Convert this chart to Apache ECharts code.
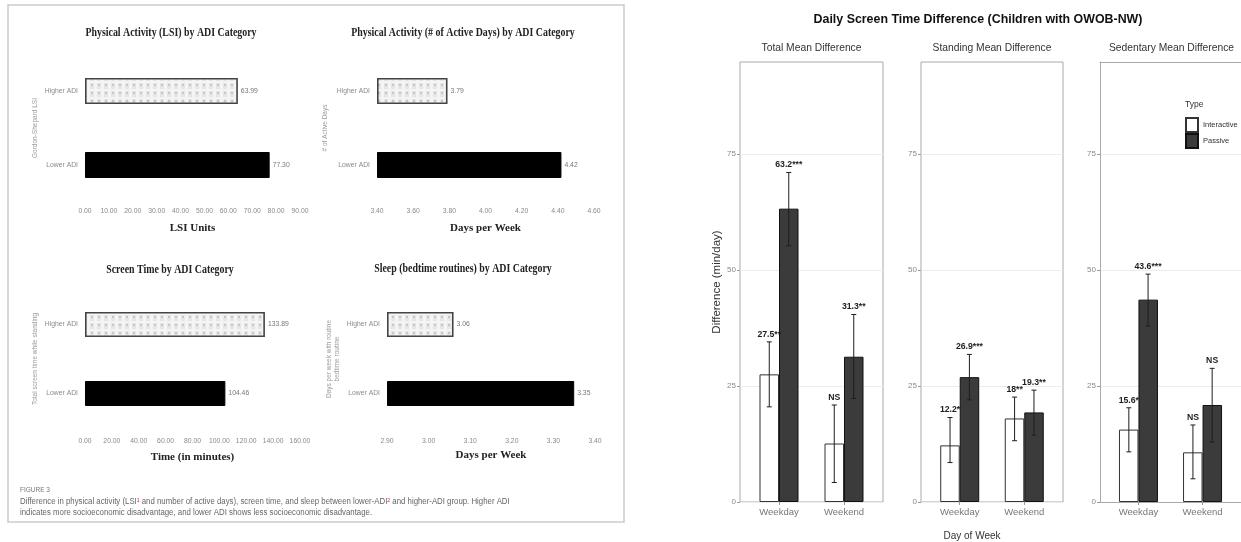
<!DOCTYPE html>
<html><head><meta charset="utf-8">
<script src="https://cdn.jsdelivr.net/npm/echarts@6/dist/echarts.min.js"></script>
<style>html,body{margin:0;padding:0;background:#fff}#c{width:1241px;height:542px}</style>
</head><body><div id="c"></div>
<script>
// ---------- Left figure data ----------
const adiCategories = ['Lower ADI', 'Higher ADI'];
const lsiValues = [77.30, 63.99];
const activeDayValues = [4.42, 3.79];
const screenTimeValues = [104.46, 133.89];
const sleepValues = [3.35, 3.06];
const lsiAxisRange = [0, 90, 10];
const activeAxisRange = [3.4, 4.6, 0.2];
const screenAxisRange = [0, 160, 20];
const sleepAxisRange = [2.9, 3.4, 0.1];

// ---------- Right figure data ----------
const dayCategories = ['Weekday', 'Weekend'];
const facetTitles = ['Total Mean Difference', 'Standing Mean Difference', 'Sedentary Mean Difference'];
const interMean  = [[27.5, 12.6], [12.2, 18.0], [15.6, 10.7]];
const interLow   = [[20.5, 4.2],  [8.5, 13.2],  [10.8, 5.0]];
const interHigh  = [[34.5, 20.9], [18.2, 22.6], [20.3, 16.6]];
const interLabel = [['27.5**', 'NS'], ['12.2*', '18**'], ['15.6*', 'NS']];
const passMean   = [[63.2, 31.3], [26.9, 19.3], [43.6, 20.9]];
const passLow    = [[55.2, 22.3], [22.0, 14.4], [37.9, 12.9]];
const passHigh   = [[71.0, 40.4], [31.8, 24.1], [49.1, 28.8]];
const passLabel  = [['63.2***', '31.3**'], ['26.9***', '19.3**'], ['43.6***', 'NS']];
const diffTicks = [0, 25, 50, 75];

// ---------- helpers ----------
function checkerPattern() {
  const c = document.createElement('canvas');
  c.width = 7; c.height = 8;
  const g = c.getContext('2d');
  g.fillStyle = '#e6e6e6'; g.fillRect(0, 0, 7, 8);
  g.fillStyle = '#f4f4f4'; g.fillRect(3, 0, 3, 8); g.fillRect(0, 1, 7, 2);
  g.fillStyle = '#c6c6c6'; g.fillRect(0, 4, 2, 2);
  return c;
}
const pat = checkerPattern();
const SANS = 'Liberation Sans';
const SERIF = 'Liberation Serif';
const PANEL_BORDER = '#a9a9a9';

const leftSpecs = [
  {values: lsiValues, range: lsiAxisRange, title: 'Physical Activity (LSI) by ADI Category', xName: 'LSI Units',
   yName: 'Gordon-Shepard LSI', left: 85, width: 215, top: 54, height: 148, barW: 26, lm: 6, ng: 21, yng: 46, tx: 171, ty: 33},
  {values: activeDayValues, range: activeAxisRange, title: 'Physical Activity (# of Active Days) by ADI Category', xName: 'Days per Week',
   yName: '# of Active Days', left: 377, width: 217, top: 54, height: 148, barW: 26, lm: 6, ng: 21, yng: 48, tx: 463, ty: 33},
  {values: screenTimeValues, range: screenAxisRange, title: 'Screen Time by ADI Category', xName: 'Time (in minutes)',
   yName: 'Total screen time while standing', left: 85, width: 215, top: 290, height: 138, barW: 25, lm: 10, ng: 24, yng: 46, tx: 170, ty: 270},
  {values: sleepValues, range: sleepAxisRange, title: 'Sleep (bedtime routines) by ADI Category', xName: 'Days per Week',
   yName: 'Days per week with routine\nbedtime routine', left: 387, width: 208, top: 290, height: 138, barW: 25, lm: 10, ng: 22, yng: 46, tx: 463, ty: 269}
];

const grids = [], xAxes = [], yAxes = [], series = [], graphics = [];

leftSpecs.forEach((s, i) => {
  grids.push({left: s.left, top: s.top, width: s.width, height: s.height, containLabel: false});
  xAxes.push({gridIndex: i, type: 'value', min: s.range[0], max: s.range[1], interval: s.range[2], startValue: s.range[0],
    axisLine: {show: false}, axisTick: {show: false}, splitLine: {show: false},
    axisLabel: {fontSize: 6.8, color: '#8a8a8a', fontFamily: SANS, margin: s.lm, formatter: v => v.toFixed(2)},
    name: s.xName, nameLocation: 'middle', nameGap: s.ng,
    nameTextStyle: {fontFamily: SERIF, fontWeight: 'bold', fontSize: 11, color: '#222'}});
  yAxes.push({gridIndex: i, type: 'category', data: adiCategories,
    axisLine: {show: false}, axisTick: {show: false}, splitLine: {show: false},
    axisLabel: {fontSize: 6.8, color: '#8a8a8a', fontFamily: SANS, margin: 7},
    name: s.yName, nameLocation: 'middle', nameRotate: 90, nameGap: s.yng,
    nameTextStyle: {fontFamily: SANS, fontSize: 6.5, color: '#999', lineHeight: 8}});
  series.push({type: 'bar', xAxisIndex: i, yAxisIndex: i, barWidth: s.barW, silent: true,
    data: s.values.map((v, k) => ({value: v, itemStyle: k === 1
      ? {color: {image: pat, repeat: 'repeat'}, borderColor: '#444', borderWidth: 1.6}
      : {color: '#000', borderColor: '#000', borderWidth: 1}})),
    label: {show: true, position: 'right', distance: 3, formatter: p => p.value.toFixed(2),
      fontSize: 6.8, color: '#777', fontFamily: SANS}});
  graphics.push({type: 'text', x: s.tx, y: s.ty, scaleX: 0.86,
    style: {text: s.title, align: 'center', verticalAlign: 'middle',
      font: 'bold 11.5px "Liberation Serif"', fill: '#222'}});
});

// right facets
const facetLefts = [740, 921, 1100];
const facetWidths = [143, 142, 143];
const DODGE = 0.15;
facetTitles.forEach((t, f) => {
  const gi = 4 + f;
  const cut = f === 2; // last panel runs off the right edge: no right border
  grids.push({left: facetLefts[f], top: 62, width: facetWidths[f], height: 440, show: !cut,
    borderColor: PANEL_BORDER, borderWidth: 1, backgroundColor: '#fff'});
  xAxes.push({gridIndex: gi, type: 'value', min: 0.4, max: 2.6,
    axisLine: {show: cut, lineStyle: {color: PANEL_BORDER, width: 1}}, splitLine: {show: false},
    axisTick: {show: true, length: 3, customValues: [1, 2], lineStyle: {color: '#999'}},
    axisLabel: {customValues: [1, 2], fontSize: 9.5, color: '#777', fontFamily: SANS, margin: 5,
      formatter: v => dayCategories[Math.round(v) - 1]}});
  yAxes.push({gridIndex: gi, type: 'value', min: 0, max: 94.8,
    axisLine: {show: cut, lineStyle: {color: PANEL_BORDER, width: 1}},
    axisTick: {show: true, length: 3, customValues: diffTicks, lineStyle: {color: '#999'}},
    axisLabel: {customValues: diffTicks, fontSize: 8, color: '#888', fontFamily: SANS, margin: 4},
    splitLine: {show: true, lineStyle: {color: '#ececec', width: 1}},
    name: f === 0 ? 'Difference (min/day)' : '', nameLocation: 'middle', nameRotate: 90, nameGap: 15,
    nameTextStyle: {fontSize: 11.5, color: '#333', fontFamily: SANS}});
  series.push({name: 'Interactive', type: 'bar', xAxisIndex: gi, yAxisIndex: gi, barWidth: 19.5, barGap: '0%',
    itemStyle: {color: '#ffffff', borderColor: '#333', borderWidth: 1},
    data: dayCategories.map((d, k) => [k + 1, interMean[f][k]])});
  series.push({name: 'Passive', type: 'bar', xAxisIndex: gi, yAxisIndex: gi, barWidth: 19.5, barGap: '0%',
    itemStyle: {color: '#3b3b3b', borderColor: '#111', borderWidth: 1},
    data: dayCategories.map((d, k) => [k + 1, passMean[f][k]])});
  const mk = (low, high, labels, off) => ({
    type: 'custom', name: 'err', xAxisIndex: gi, yAxisIndex: gi, z: 5, silent: true, clip: false,
    data: dayCategories.map((d, k) => [k + 1 + off, low[f][k], high[f][k]]),
    encode: {x: 0, y: [1, 2]},
    renderItem: (params, api) => {
      const x = api.value(0);
      const pt = api.coord([x, api.value(2)]);
      const pb = api.coord([x, api.value(1)]);
      const st = {stroke: '#1e1e1e', lineWidth: 1};
      return {type: 'group', children: [
        {type: 'line', shape: {x1: pt[0], y1: pt[1], x2: pb[0], y2: pb[1]}, style: st},
        {type: 'line', shape: {x1: pt[0] - 2.5, y1: pt[1], x2: pt[0] + 2.5, y2: pt[1]}, style: st},
        {type: 'line', shape: {x1: pb[0] - 2.5, y1: pb[1], x2: pb[0] + 2.5, y2: pb[1]}, style: st},
        {type: 'text', x: pt[0], y: pt[1] - 3, style: {text: labels[f][params.dataIndex], align: 'center',
          verticalAlign: 'bottom', font: 'bold 8.7px "Liberation Sans"', fill: '#1e1e1e'}}
      ]};
    }
  });
  series.push(mk(interLow, interHigh, interLabel, -DODGE));
  series.push(mk(passLow, passHigh, passLabel, DODGE));
  graphics.push({type: 'text', x: facetLefts[f] + facetWidths[f] / 2, y: 48,
    style: {text: t, align: 'center', verticalAlign: 'middle', font: '10.3px "Liberation Sans"', fill: '#333'}});
});
// top border of the cut-off last panel, as a bare top axis line
xAxes.push({gridIndex: 6, type: 'value', position: 'top', min: 0.4, max: 2.6,
  axisLine: {show: true, lineStyle: {color: PANEL_BORDER, width: 1}},
  axisTick: {show: false}, axisLabel: {show: false}, splitLine: {show: false}});

// left frame + caption
graphics.push({type: 'rect', shape: {x: 8, y: 5, width: 616, height: 517}, z: -1,
  style: {fill: 'none', stroke: '#cccccc', lineWidth: 1.5}});
graphics.push({type: 'text', x: 20, y: 490, style: {text: 'FIGURE 3', font: '6.5px "Liberation Sans"', fill: '#777', verticalAlign: 'middle'}});
graphics.push({type: 'text', x: 20, y: 502, scaleX: 0.92, style: {
  text: 'Difference in physical activity (LSI{s|1} and number of active days), screen time, and sleep between lower-ADI{s|2} and higher-ADI group. Higher ADI',
  font: '8.5px "Liberation Sans"', fill: '#666', verticalAlign: 'middle',
  rich: {s: {fontSize: 5.5, fill: '#c2185b', verticalAlign: 'top', padding: [0, 0, 3, 0]}}}});
graphics.push({type: 'text', x: 20, y: 513, scaleX: 0.92, style: {
  text: 'indicates more socioeconomic disadvantage, and lower ADI shows less socioeconomic disadvantage.',
  font: '8.5px "Liberation Sans"', fill: '#666', verticalAlign: 'middle'}});

// right titles
graphics.push({type: 'text', x: 978, y: 20, style: {text: 'Daily Screen Time Difference (Children with OWOB-NW)',
  align: 'center', verticalAlign: 'middle', font: 'bold 12.4px "Liberation Sans"', fill: '#111'}});
graphics.push({type: 'text', x: 972, y: 536, style: {text: 'Day of Week', align: 'center', verticalAlign: 'middle',
  font: '10px "Liberation Sans"', fill: '#333'}});
graphics.push({type: 'text', x: 1185, y: 105, style: {text: 'Type', verticalAlign: 'middle',
  font: '8.5px "Liberation Sans"', fill: '#333'}});

const chart = echarts.init(document.getElementById('c'), null, {renderer: 'canvas'});
chart.setOption({
  animation: false,
  backgroundColor: '#fff',
  grid: grids, xAxis: xAxes, yAxis: yAxes, series: series,
  legend: {data: ['Interactive', 'Passive'], orient: 'vertical', left: 1185, top: 117, itemWidth: 12, itemHeight: 14,
    itemGap: 0, padding: 0, icon: 'rect', selectedMode: false,
    textStyle: {fontSize: 7.5, color: '#333', fontFamily: SANS}},
  graphic: graphics
});
</script></body></html>
